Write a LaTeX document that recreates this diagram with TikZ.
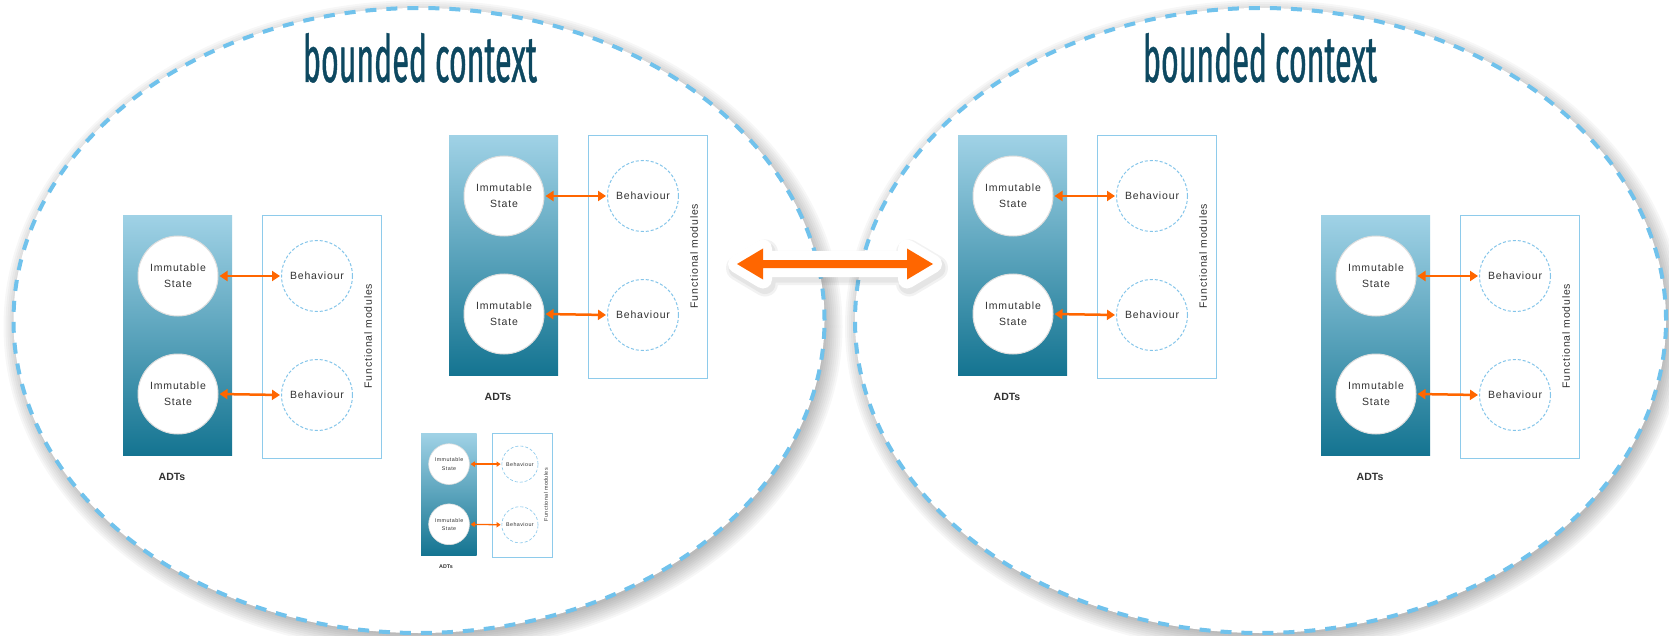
\documentclass[tikz,border=0pt]{standalone}
\usepackage{fontspec}
\setmainfont{Liberation Sans}
\newfontfamily\titlefam{Fira Sans}[FakeStretch=0.46, FakeBold=0.6]
\newfontfamily\modfam{Liberation Sans}[LetterSpace=8]
\usetikzlibrary{shapes.geometric,arrows.meta}

\definecolor{ctxBlue}{RGB}{112,194,236}
\definecolor{ttlTeal}{RGB}{13,72,96}
\definecolor{adtTop}{RGB}{160,210,230}
\definecolor{adtBot}{RGB}{20,116,145}
\definecolor{fnBlue}{RGB}{142,203,235}
\definecolor{behBlue}{RGB}{132,197,234}
\definecolor{linkOrange}{RGB}{255,102,0}
\definecolor{txtGray}{RGB}{50,50,50}

% outline of the double arrow between the two contexts
\newcommand\linkshape{(-98,0) -- (-72,-15.5) -- (-72,-4) -- (72,-4) -- (72,-15.5)
  -- (98,0) -- (72,15.5) -- (72,4) -- (-72,4) -- (-72,15.5) -- cycle}

\tikzset{
  ctx/.style={ellipse, draw=ctxBlue, fill=white, line width=4pt,
    dash pattern=on 11pt off 10pt, inner sep=0pt,
    minimum width=811pt, minimum height=625pt},
  ctxtitle/.style={anchor=base, inner sep=0pt, text=ttlTeal, font=\titlefam},
  adtbox/.style={top color=adtTop, bottom color=adtBot, draw=none,
    anchor=north west, inner sep=0pt, minimum width=109pt, minimum height=240pt},
  fnbox/.style={draw=fnBlue, fill=white, line width=1.4pt, anchor=north west,
    inner sep=0pt, minimum width=119pt, minimum height=243pt},
  statec/.style={circle, fill=white, draw=black!13, line width=1pt,
    minimum size=80pt, inner sep=0pt, align=center, text=txtGray,
    font=\modfam\fontsize{10.5}{16}\selectfont},
  behc/.style={circle, fill=white, draw=behBlue, densely dashed, line width=1pt,
    minimum size=71pt, inner sep=0pt, text=txtGray,
    font=\modfam\fontsize{10.5}{13}\selectfont},
  link/.style={draw=linkOrange, line width=2.5pt,
    {Triangle[length=0pt 3.2,width=0pt 4]}-{Triangle[length=0pt 3.2,width=0pt 4]},
    shorten <=1pt, shorten >=1pt},
  adtlab/.style={inner sep=0pt, text=txtGray, font=\bfseries\fontsize{10.5}{12}\selectfont},
  fnlab/.style={inner sep=0pt, text=txtGray, rotate=90,
    font=\modfam\fontsize{10.5}{12}\selectfont},
  small module/.style={
    link/.append style={line width=1.3pt},
    fnbox/.append style={line width=0.8pt},
    behc/.append style={line width=0.6pt},
    statec/.append style={line width=0.6pt}},
  pics/module/.style={code={
    \node[adtbox] (-adt) at (0,0) {};
    \node[fnbox] (-fn) at (139,0) {};
    \node[statec] (-s1) at (55,61) {Immutable\\State};
    \node[statec] (-s2) at (55,179) {Immutable\\State};
    \node[behc] (-b1) at (194,61) {Behaviour};
    \node[behc] (-b2) at (194,180) {Behaviour};
    \draw[link] (-s1.east) -- (-b1.west);
    \draw[link] (-s2.east) -- (-b2.west);
    \node[adtlab] (-lab) at (49,262) {ADTs};
    \node[fnlab] (-fl) at (245,121) {Functional modules};
  }}
}

\begin{document}
\begin{tikzpicture}[x=1pt, y=-1pt, transform shape]
\useasboundingbox (0,0) rectangle (1669,636);

% soft shadows under both contexts
\foreach \cx in {419,1260.5}{
  \foreach \s in {-4,-2,...,14}{
    \fill[black, opacity=0.03] (\cx+4,326.5) ellipse [x radius=405.5+\s, y radius=312.5+\s];
  }
}

% the two bounded contexts
\node[ctx] (lctx) at (419,320.5) {};
\node[ctx] (rctx) at (1260.5,320.5) {};

\node[ctxtitle] (lttl) at (420,82) {\resizebox{234pt}{49pt}{bounded context}};
\node[ctxtitle] (rttl) at (1260,82) {\resizebox{234pt}{49pt}{bounded context}};

% modules inside the left context
\pic (mA) at (123,215) {module};
\pic (mB) at (449,135) {module};
\pic[scale=0.51, small module] (mE) at (421,433) {module};

% modules inside the right context
\pic (mC) at (958,135) {module};
\pic (mD) at (1321,215) {module};

% double arrow linking the contexts
\coordinate (link) at (835,264);
\begin{scope}[shift={(link)}]
  \begin{scope}[shift={(2,4)}]
    \filldraw[black, opacity=0.05, line width=26pt, line join=round] \linkshape;
    \filldraw[black, opacity=0.05, line width=21pt, line join=round] \linkshape;
  \end{scope}
  \filldraw[white, line width=18pt, line join=round] \linkshape;
  \fill[linkOrange] \linkshape;
\end{scope}
\end{tikzpicture}
\end{document}
